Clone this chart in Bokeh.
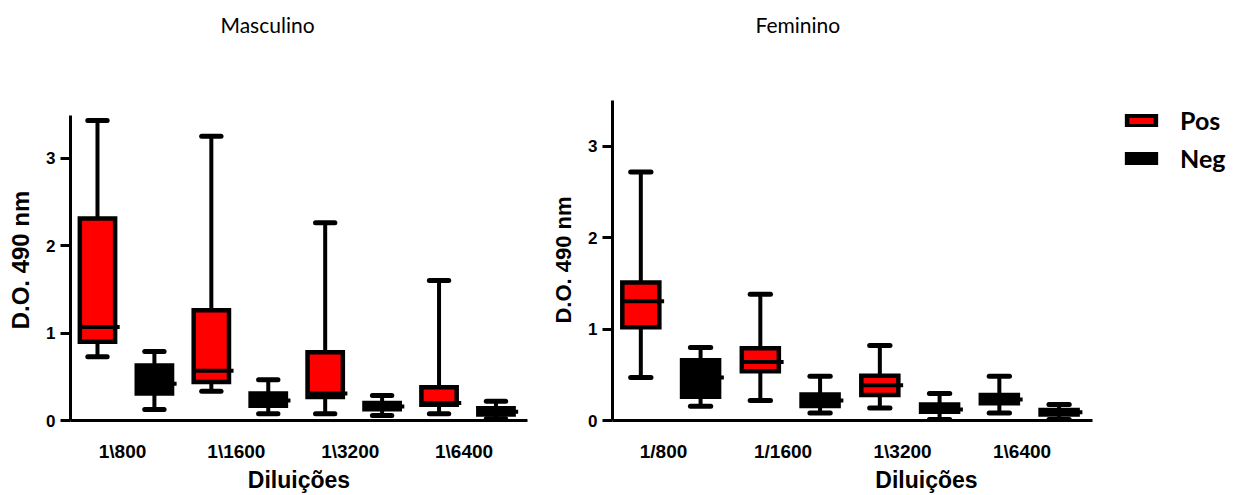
from bokeh.plotting import figure
from bokeh.layouts import row
from bokeh.models import Range1d, FixedTicker, Legend, LegendItem, ColumnDataSource, Title
from bokeh.embed import file_html
from bokeh.resources import INLINE

# ---------------- data ----------------
categories_m = ["1\\800", "1\\1600", "1\\3200", "1\\6400"]
categories_f = ["1/800", "1/1600", "1\\3200", "1\\6400"]
y_ticks = [0, 1, 2, 3]

# Masculino - Pos
m_pos_low = [0.73, 0.335, 0.076, 0.076]
m_pos_q1 = [0.90, 0.44, 0.27, 0.18]
m_pos_med = [1.07, 0.57, 0.31, 0.20]
m_pos_q3 = [2.31, 1.26, 0.78, 0.38]
m_pos_high = [3.43, 3.25, 2.26, 1.60]
# Masculino - Neg
m_neg_low = [0.125, 0.076, 0.057, 0.02]
m_neg_q1 = [0.31, 0.17, 0.13, 0.07]
m_neg_med = [0.42, 0.23, 0.16, 0.10]
m_neg_q3 = [0.63, 0.31, 0.20, 0.14]
m_neg_high = [0.79, 0.465, 0.285, 0.22]
# Feminino - Pos
f_pos_low = [0.47, 0.22, 0.138, 0.083]
f_pos_q1 = [1.02, 0.54, 0.28, 0.19]
f_pos_med = [1.305, 0.64, 0.385, 0.23]
f_pos_q3 = [1.51, 0.79, 0.49, 0.28]
f_pos_high = [2.72, 1.38, 0.82, 0.485]
# Feminino - Neg
f_neg_low = [0.155, 0.083, 0.01, 0.01]
f_neg_q1 = [0.26, 0.16, 0.095, 0.065]
f_neg_med = [0.47, 0.22, 0.12, 0.09]
f_neg_q3 = [0.66, 0.285, 0.175, 0.115]
f_neg_high = [0.80, 0.485, 0.295, 0.175]

# ---------------- style ----------------
RED = "#FF0000"
BLACK = "#000000"
m_pos_fill = [RED, RED, RED, RED]
f_pos_fill = [RED, RED, RED, BLACK]
neg_fill = [BLACK, BLACK, BLACK, BLACK]
POS_SHIFT = -0.25
NEG_SHIFT = 0.25
BOX_W = 0.31
CAP_W = 0.17
X_START, X_END = -0.487, 3.527
AXIS_FONT = "Liberation Sans"
TEXT_FONT = "Lato"


def add_boxes(p, low, q1, med, q3, high, shift, fills):
    x = [i + shift for i in range(len(low))]
    src = ColumnDataSource(dict(
        x=x,
        left=[v - BOX_W / 2 for v in x],
        right=[v + BOX_W / 2 for v in x],
        med_r=[v + BOX_W / 2 + 0.04 for v in x],
        cap_l=[v - CAP_W / 2 for v in x],
        cap_r=[v + CAP_W / 2 for v in x],
        low=low, q1=q1, med=med, q3=q3, high=high, fill=fills,
    ))
    p.segment(x0="x", y0="low", x1="x", y1="high", source=src,
              line_color=BLACK, line_width=4)
    r = p.quad(left="left", right="right", bottom="q1", top="q3", source=src,
               fill_color="fill", line_color=BLACK, line_width=4.5,
               line_join="miter")
    p.segment(x0="left", y0="med", x1="med_r", y1="med", source=src,
              line_color=BLACK, line_width=4)
    p.segment(x0="cap_l", y0="low", x1="cap_r", y1="low", source=src,
              line_color=BLACK, line_width=5, line_cap="round")
    p.segment(x0="cap_l", y0="high", x1="cap_r", y1="high", source=src,
              line_color=BLACK, line_width=5, line_cap="round")
    return r


def make_panel(title, cats, width, bl, br, x_end, y_end, y_top, title_offset,
               label_shift, ylab_size):
    p = figure(width=width, height=495, output_backend="svg", toolbar_location=None,
               x_range=Range1d(X_START, x_end), y_range=Range1d(0, y_end),
               min_border_left=bl, min_border_right=br, min_border_top=99,
               min_border_bottom=60)
    p.outline_line_color = None
    p.grid.visible = False
    # spacer title (closest to the frame) then the real title above it
    p.add_layout(Title(text=" ", text_font_size="20px", standoff=39), "above")
    p.add_layout(Title(text=title, text_font=TEXT_FONT, text_font_style="normal",
                       text_font_size="21px", text_color=BLACK, align="left",
                       offset=title_offset, standoff=0), "above")

    # y axis
    ya = p.yaxis[0]
    ya.bounds = (0, y_top)
    ya.ticker = FixedTicker(ticks=y_ticks)
    ya.minor_tick_line_color = None
    ya.major_tick_out = 10
    ya.major_tick_in = 0
    ya.major_tick_line_width = 3
    ya.axis_line_width = 3
    ya.major_label_text_color = BLACK
    ya.major_label_text_font = AXIS_FONT
    ya.major_label_text_font_style = "bold"
    ya.major_label_text_font_size = "17px"
    ya.major_label_standoff = 5
    ya.axis_label = "D.O. 490 nm"
    ya.axis_label_text_color = BLACK
    ya.axis_label_text_font = AXIS_FONT
    ya.axis_label_text_font_style = "bold"
    ya.axis_label_text_font_size = ylab_size
    ya.axis_label_standoff = 9

    # x axis
    xa = p.xaxis[0]
    xa.bounds = (X_START, X_END)
    ticks = [i + label_shift for i in range(len(cats))]
    xa.ticker = FixedTicker(ticks=ticks)
    xa.major_label_overrides = {t: c for t, c in zip(ticks, cats)}
    xa.minor_tick_line_color = None
    xa.major_tick_line_color = None
    xa.major_tick_out = 0
    xa.major_tick_in = 0
    xa.axis_line_width = 3
    xa.major_label_text_color = BLACK
    xa.major_label_text_font = AXIS_FONT
    xa.major_label_text_font_style = "bold"
    xa.major_label_text_font_size = "19px"
    xa.major_label_text_line_height = 1.0
    xa.major_label_standoff = 20
    xa.axis_label = "Diluições"
    xa.axis_label_text_color = BLACK
    xa.axis_label_text_font = AXIS_FONT
    xa.axis_label_text_font_style = "bold"
    xa.axis_label_text_font_size = "23px"
    xa.axis_label_text_line_height = 1.0
    xa.axis_label_standoff = 2
    return p


pm = make_panel("Masculino", categories_m, 545, 70, 18, X_END, 3.669, 3.49, 150, -0.03, "24px")
add_boxes(pm, m_pos_low, m_pos_q1, m_pos_med, m_pos_q3, m_pos_high, POS_SHIFT, m_pos_fill)
add_boxes(pm, m_neg_low, m_neg_q1, m_neg_med, m_neg_q3, m_neg_high, NEG_SHIFT, neg_fill)

# right panel: the frame runs to the page edge so that the legend sits inside it
pf = make_panel("Feminino", categories_f, 695, 67, 0, 4.768, 3.512, 3.5, 143, -0.06, "22px")
r_pos = add_boxes(pf, f_pos_low, f_pos_q1, f_pos_med, f_pos_q3, f_pos_high, POS_SHIFT, f_pos_fill)
r_neg = add_boxes(pf, f_neg_low, f_neg_q1, f_neg_med, f_neg_q3, f_neg_high, NEG_SHIFT, neg_fill)

legend = Legend(items=[LegendItem(label="Pos", renderers=[r_pos], index=0),
                       LegendItem(label="Neg", renderers=[r_neg], index=0)],
                location=(511, 247))
legend.glyph_width = 36
legend.glyph_height = 13
legend.label_height = 13
legend.spacing = 8
legend.padding = 0
legend.margin = 0
legend.label_standoff = 21
legend.border_line_color = None
legend.background_fill_alpha = 0
legend.label_text_color = BLACK
legend.label_text_font = TEXT_FONT
legend.label_text_font_style = "bold"
legend.label_text_font_size = "25px"
pf.add_layout(legend, "center")

layout = row(pm, pf)
open("out.html", "w").write(file_html(layout, INLINE))
